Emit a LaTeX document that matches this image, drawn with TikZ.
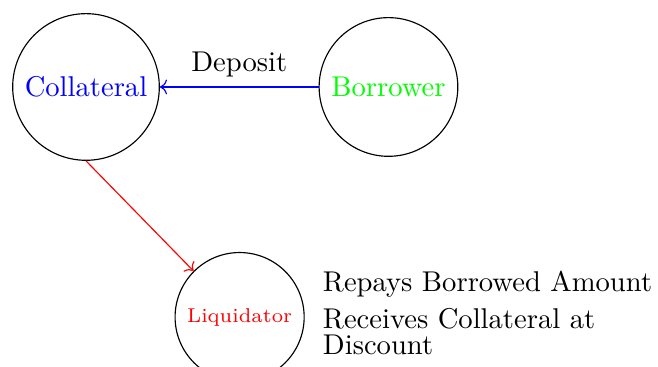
\documentclass[tikz,border=0pt]{standalone}
\usepackage{xcolor}
\usepackage{tikz}
\usetikzlibrary{arrows.meta, positioning}
\tikzset{
  party/.style={
    circle, draw=black, text centered},
  small/.style={
    party, minimum size=1.42cm, font=\scriptsize},
  note/.style={
    align=left, font={\fontsize{10}{9.2}\selectfont}},
  arr/.style={->},
}
\begin{document}
\begin{tikzpicture}[node distance=1.95cm]

  \useasboundingbox (-1.057,-3.441) rectangle (7.030,1.069);

  \node[party, text=blue] (coll)
    {Collateral};

  \node[party, text=green, right=of coll] (borr)
    {Borrower};

  \node[small, text=red, below right=1.62cm and 0.68cm of coll] (liq)
    {Liquidator};

  \node[note, right=0.1cm of liq, yshift=0.05cm] (txt)
    {Repays Borrowed Amount\\[3.5pt]Receives Collateral at\\Discount};

  \draw[arr, blue] (borr) -- node[above, text=black]{Deposit} (coll);
  \draw[arr, red]  (coll.south) -- (liq.north west);

\end{tikzpicture}
\end{document}
